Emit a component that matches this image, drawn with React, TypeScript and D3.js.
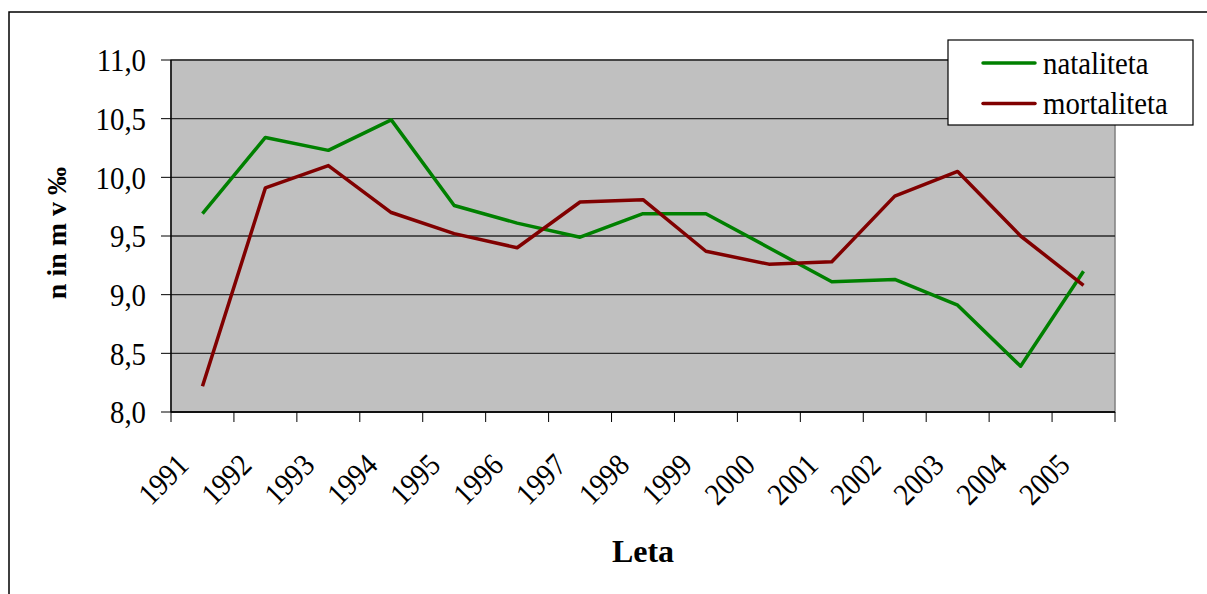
import React from "react";
import * as d3 from "d3";

const years = ["1991","1992","1993","1994","1995","1996","1997","1998","1999","2000","2001","2002","2003","2004","2005"];
const nataliteta = [9.69, 10.34, 10.23, 10.49, 9.76, 9.61, 9.49, 9.69, 9.69, 9.40, 9.11, 9.13, 8.91, 8.39, 9.20];
const mortaliteta = [8.22, 9.91, 10.10, 9.70, 9.52, 9.40, 9.79, 9.81, 9.37, 9.26, 9.28, 9.84, 10.05, 9.50, 9.08];
const yTicks = [8.0, 8.5, 9.0, 9.5, 10.0, 10.5, 11.0];
const seriesNames = ["nataliteta", "mortaliteta"];

const W = 1207, H = 594;
const plot = { left: 171, right: 1115, top: 60, bottom: 412 };
const FONT = "Liberation Serif, Times New Roman, serif";
const SX = 0.9;

export default function App() {
  const x = d3.scaleBand<string>().domain(years).range([plot.left, plot.right]).paddingInner(0).paddingOuter(0);
  const y = d3.scaleLinear().domain([8, 11]).range([plot.bottom, plot.top]);
  const cx = (yr: string) => (x(yr) as number) + x.bandwidth() / 2;
  const line = d3.line<number>().x((_, i) => cx(years[i])).y((d) => y(d));
  const fmt = (v: number) => d3.format(".1f")(v).replace(".", ",");
  const series = [
    { name: seriesNames[0], values: nataliteta, color: "#008000" },
    { name: seriesNames[1], values: mortaliteta, color: "#800000" },
  ];
  const boundaries = years.map((yr) => x(yr) as number).concat([plot.right]);

  return (
    <div style={{ position: "fixed", left: 0, top: 0 }}>
      <svg width={W} height={H} style={{ display: "block", background: "#fff" }}>
        <rect x={9} y={12} width={1260} height={640} fill="none" stroke="#000" strokeWidth={1.5} />
        <rect x={plot.left} y={plot.top} width={plot.right - plot.left} height={plot.bottom - plot.top} fill="#C0C0C0" stroke="#808080" strokeWidth={1.5} />
        {yTicks.map((t) => (
          <line key={"g" + t} x1={plot.left} x2={plot.right} y1={y(t)} y2={y(t)} stroke="#2a2a2a" strokeWidth={1.4} />
        ))}
        <line x1={plot.left} x2={plot.left} y1={plot.top} y2={plot.bottom} stroke="#000" strokeWidth={1.4} />
        <line x1={plot.left} x2={plot.right} y1={plot.bottom} y2={plot.bottom} stroke="#000" strokeWidth={1.4} />
        {yTicks.map((t) => (
          <g key={"yt" + t}>
            <line x1={plot.left - 10} x2={plot.left} y1={y(t)} y2={y(t)} stroke="#000" strokeWidth={1} />
            <text transform={`translate(146,${y(t)}) scale(${SX},1)`} dy="0.35em" textAnchor="end" fontFamily={FONT} fontSize={32} fill="#000">{fmt(t)}</text>
          </g>
        ))}
        {boundaries.map((b, i) => (
          <line key={"xt" + i} x1={b} x2={b} y1={plot.bottom} y2={plot.bottom + 10} stroke="#000" strokeWidth={1} />
        ))}
        {years.map((yr) => (
          <text key={"xl" + yr} transform={`translate(${cx(yr) - 12},${467}) rotate(-45) scale(${SX},1)`} textAnchor="end" fontFamily={FONT} fontSize={31} fill="#000">{yr}</text>
        ))}
        {series.map((s) => (
          <path key={s.name} d={line(s.values) as string} fill="none" stroke={s.color} strokeWidth={3.5} strokeLinejoin="round" />
        ))}
        <text transform="translate(66,233) rotate(-90)" textAnchor="middle" fontFamily={FONT} fontSize={28} fontWeight="bold" fill="#000">n in m v ‰</text>
        <text x={643} y={562} textAnchor="middle" fontFamily={FONT} fontSize={32} fontWeight="bold" fill="#000">Leta</text>
        <rect x={948} y={40} width={245} height={85} fill="#fff" stroke="#000" strokeWidth={1.2} />
        {series.map((s, i) => (
          <g key={"lg" + s.name}>
            <line x1={983} x2={1035} y1={63 + i * 40.5} y2={63 + i * 40.5} stroke={s.color} strokeWidth={3.5} strokeLinecap="round" />
            <text transform={`translate(1043,${63 + i * 40.5}) scale(${SX},1)`} dy="0.33em" fontFamily={FONT} fontSize={32} fill="#000">{s.name}</text>
          </g>
        ))}
      </svg>
    </div>
  );
}
